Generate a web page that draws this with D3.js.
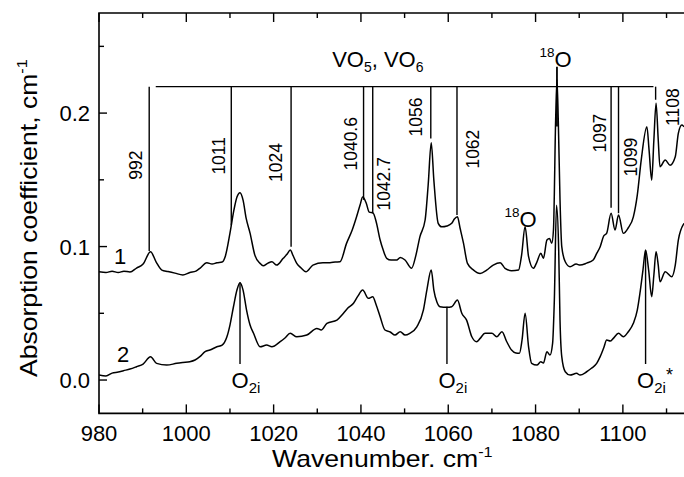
<!DOCTYPE html>
<html>
<head>
<meta charset="utf-8">
<script src="https://cdn.jsdelivr.net/npm/d3@7"></script>
<style>
body { margin: 0; background: #ffffff; }
svg text { font-family: "Liberation Sans", Arial, sans-serif; fill: #000000; }
</style>
</head>
<body>
<div id="chart"></div>
<script>
// spectrum 1 (upper) - wavenumber, absorption coefficient
var wn1 = [980.0, 981.6, 983.0, 984.4, 985.7, 987.1, 988.6, 990.1, 991.8, 993.1, 994.4, 995.8, 997.4, 999.2,
    1000.8, 1002.2, 1003.1, 1004.7, 1005.9, 1007.0, 1008.2, 1008.9, 1010.0, 1010.9, 1011.6, 1012.3, 1013.0, 1013.7,
    1014.6, 1015.7, 1016.9, 1017.6, 1018.7, 1019.6, 1020.7, 1022.2, 1023.1, 1023.8, 1024.5, 1025.3, 1026.3, 1027.4,
    1029.0, 1031.3, 1032.9, 1034.1, 1035.2, 1036.7, 1038.0, 1039.0, 1039.8, 1040.4, 1041.2, 1041.9, 1042.8, 1043.5,
    1044.4, 1045.1, 1045.9, 1046.9, 1048.2, 1049.0, 1050.1, 1051.6, 1052.6, 1053.5, 1054.7, 1055.4, 1056.1, 1056.7,
    1057.7, 1058.5, 1059.7, 1060.8, 1061.4, 1062.1, 1062.7, 1063.5, 1064.4, 1065.8, 1067.3, 1068.8, 1070.3, 1071.9,
    1073.0, 1074.5, 1076.1, 1076.8, 1077.6, 1078.4, 1079.5, 1080.3, 1081.2, 1081.8, 1082.6, 1083.2, 1083.7, 1084.1,
    1084.6, 1084.9, 1085.2, 1085.6, 1086.0, 1086.8, 1087.9, 1089.3, 1090.2, 1091.7, 1093.2, 1094.0, 1094.8, 1095.6,
    1096.3, 1097.3, 1098.2, 1099.0, 1100.1, 1101.2, 1102.4, 1103.3, 1104.2, 1105.5, 1106.0, 1106.6, 1107.1, 1107.6,
    1108.1, 1108.5, 1109.7, 1110.8, 1112.0, 1112.7, 1113.5, 1114.0];
var abs1 = [0.0811, 0.0805, 0.0816, 0.0805, 0.0816, 0.0809, 0.0839, 0.0869, 0.0961, 0.0884, 0.0824, 0.0813, 0.0801, 0.0787,
    0.0805, 0.0816, 0.0837, 0.0879, 0.0869, 0.0879, 0.0884, 0.0924, 0.1101, 0.1273, 0.1371, 0.1404, 0.1348, 0.1213,
    0.1101, 0.0936, 0.0874, 0.0856, 0.0876, 0.0886, 0.0861, 0.0912, 0.0944, 0.0974, 0.0929, 0.0874, 0.0839, 0.0811,
    0.0861, 0.0879, 0.0879, 0.0884, 0.0886, 0.1024, 0.1124, 0.1223, 0.1311, 0.1371, 0.1326, 0.1258, 0.1251, 0.1184,
    0.1049, 0.0974, 0.0912, 0.0899, 0.0899, 0.0919, 0.0899, 0.0837, 0.0936, 0.1073, 0.1199, 0.1461, 0.1778, 0.1498,
    0.1174, 0.1148, 0.1154, 0.1174, 0.1206, 0.1223, 0.1139, 0.1024, 0.0874, 0.0824, 0.0799, 0.0824, 0.0861, 0.0879,
    0.0837, 0.0819, 0.0824, 0.0936, 0.1148, 0.0924, 0.0837, 0.0884, 0.0949, 0.0912, 0.1049, 0.1061, 0.1024, 0.1124,
    0.195, 0.225, 0.195, 0.135, 0.0999, 0.0886, 0.0849, 0.0869, 0.0861, 0.0876, 0.0899, 0.0949, 0.0999, 0.1079,
    0.1101, 0.1249, 0.1124, 0.1236, 0.1099, 0.1139, 0.1223, 0.1386, 0.1648, 0.1897, 0.1723, 0.1498, 0.1798, 0.2073,
    0.1798, 0.1598, 0.1648, 0.1610, 0.1673, 0.1848, 0.1910, 0.1897];

// spectrum 2 (lower)
var wn2 = [980.0, 981.6, 983.0, 984.4, 985.6, 987.1, 988.6, 990.1, 991.8, 993.2, 995.5, 997.8, 999.2, 1000.8,
    1002.0, 1003.1, 1004.3, 1005.4, 1007.0, 1008.2, 1009.3, 1010.0, 1010.8, 1011.6, 1012.3, 1013.0, 1013.8, 1014.6,
    1015.4, 1016.9, 1018.4, 1019.6, 1021.5, 1022.6, 1023.8, 1025.3, 1027.6, 1029.9, 1030.9, 1032.2, 1034.5, 1036.0,
    1037.0, 1038.3, 1039.3, 1040.4, 1041.7, 1042.7, 1043.5, 1044.4, 1045.5, 1046.7, 1047.8, 1049.0, 1050.1, 1051.2,
    1052.8, 1054.3, 1055.1, 1056.1, 1056.7, 1057.4, 1058.1, 1059.7, 1060.8, 1062.1, 1063.1, 1064.2, 1065.4, 1066.5,
    1067.3, 1068.4, 1070.0, 1071.1, 1072.3, 1073.4, 1074.5, 1075.5, 1076.3, 1076.9, 1077.6, 1078.4, 1079.1, 1080.3,
    1081.2, 1081.8, 1082.6, 1083.3, 1083.9, 1084.3, 1084.8, 1085.3, 1085.6, 1086.0, 1086.8, 1087.9, 1089.4, 1090.2,
    1091.7, 1092.8, 1094.0, 1094.8, 1095.6, 1096.3, 1097.1, 1097.8, 1099.0, 1100.1, 1101.2, 1102.4, 1103.3, 1103.9,
    1104.6, 1105.2, 1105.9, 1106.6, 1107.1, 1107.6, 1108.1, 1108.5, 1109.7, 1111.2, 1112.0, 1112.7, 1114.0];
var abs2 = [0.0037, 0.0030, 0.0052, 0.0060, 0.0070, 0.0082, 0.0100, 0.0120, 0.0175, 0.0125, 0.0112, 0.0125, 0.0131, 0.0137,
    0.0150, 0.0175, 0.0212, 0.0225, 0.0249, 0.0262, 0.0324, 0.0412, 0.0549, 0.0674, 0.0729, 0.0674, 0.0524, 0.0412,
    0.0350, 0.0249, 0.0262, 0.0249, 0.0287, 0.0315, 0.0350, 0.0324, 0.0337, 0.0387, 0.0375, 0.0425, 0.0449, 0.0500,
    0.0539, 0.0575, 0.0629, 0.0674, 0.0612, 0.0624, 0.0562, 0.0474, 0.0375, 0.0360, 0.0337, 0.0362, 0.0337, 0.0350,
    0.0399, 0.0524, 0.0674, 0.0824, 0.0674, 0.0584, 0.0549, 0.0545, 0.0549, 0.0599, 0.0500, 0.0449, 0.0324, 0.0287,
    0.0312, 0.0350, 0.0350, 0.0324, 0.0362, 0.0287, 0.0225, 0.0202, 0.0200, 0.0300, 0.0500, 0.0249, 0.0125, 0.0112,
    0.0137, 0.0127, 0.0212, 0.0187, 0.0275, 0.0600, 0.1310, 0.0970, 0.0450, 0.0175, 0.0062, 0.0037, 0.0050, 0.0037,
    0.0062, 0.0088, 0.0125, 0.0175, 0.0240, 0.0300, 0.0292, 0.0312, 0.0350, 0.0324, 0.0360, 0.0425, 0.0524, 0.0649,
    0.0824, 0.0974, 0.0824, 0.0624, 0.0787, 0.0961, 0.0861, 0.0736, 0.0811, 0.0774, 0.0861, 0.1049, 0.1174];

var xTicks = [980, 1000, 1020, 1040, 1060, 1080, 1100];
var yTicks = [0.0, 0.1, 0.2];
var yTickLabels = ["0.0", "0.1", "0.2"];

// VO5 / VO6 mode markers
var modePos = [991.5, 1010.3, 1024, 1040.6, 1042.7, 1056, 1062, 1097.3, 1099, 1107.5];
var modeLabels = ["992", "1011", "1024", "1040.6", "1042.7", "1056", "1062", "1097", "1099", "1108"];
var modeEnd = [0.0966, 0.116, 0.0999, 0.135, 0.125, 0.181, 0.1236, 0.129, 0.125, 0.21];

// O2i markers on lower spectrum
var o2iPos = [1012.3, 1059.7, 1105.2];
var o2iTop = [0.073, 0.055, 0.097];
var o2iStar = ["", "", "*"];

// 18O markers
var o18Pos = [1084.9, 1077.6];

// title with a "-1" superscript, stretched so it spans exactly `len` px
function addTitle(svg, label, tx, ty, rot, len) {
    var t = svg.append("text").style("font-size", "23px")
    t.append("tspan").text(label)
    t.append("tspan").attr("dy", -10).style("font-size", "14px").text("-1")
    var w = t.node().getBBox().width
    t.attr("transform", "translate(" + tx + "," + ty + ")" + (rot ? " rotate(" + rot + ")" : "") +
        " scale(" + (len / w) + ",1)")
    return t
}

function drawSpectra(selector) {
    var width = 684, height = 477;
    var left = 99, right = 684, top = 13, bottom = 413.4;

    var svg = d3.select(selector)
        .append("svg")
        .attr("width", width)
        .attr("height", height)

    var x = d3.scaleLinear().domain([980, 1114]).range([left, right])
    var y = d3.scaleLinear().domain([-0.025, 0.275]).range([bottom, top])

    // frame + ticks (all inward)
    var frame = svg.append("g").attr("stroke", "#000").attr("fill", "none")
    frame.append("path")
        .attr("d", "M" + right + "," + top + "H" + left + "V" + bottom + "H" + right)
        .attr("stroke-width", 1.6)

    var xMinor = d3.range(980, 1115, 10)
    xMinor.forEach(function(v) {
        var major = v % 20 === 0
        var len = major ? 9 : 5
        frame.append("line").attr("x1", x(v)).attr("x2", x(v))
            .attr("y1", bottom).attr("y2", bottom - len).attr("stroke-width", 1.4)
        frame.append("line").attr("x1", x(v)).attr("x2", x(v))
            .attr("y1", top).attr("y2", top + len).attr("stroke-width", 1.4)
    })
    var yMinor = d3.range(0, 0.27, 0.05)
    yMinor.forEach(function(v, i) {
        var len = i % 2 === 0 ? 8 : 5
        frame.append("line").attr("x1", left).attr("x2", left + len)
            .attr("y1", y(v)).attr("y2", y(v)).attr("stroke-width", 1.4)
    })

    svg.selectAll(".xtick").data(xTicks).enter().append("text")
        .attr("class", "xtick")
        .attr("x", function(d) { return x(d) })
        .attr("y", 441)
        .attr("text-anchor", "middle")
        .style("font-size", "22px")
        .text(function(d) { return d })

    svg.selectAll(".ytick").data(yTicks).enter().append("text")
        .attr("class", "ytick")
        .attr("x", 90)
        .attr("y", function(d) { return y(d) + 8 })
        .attr("text-anchor", "end")
        .style("font-size", "22px")
        .text(function(d, i) { return yTickLabels[i] })

    // axis titles
    addTitle(svg, "Wavenumber. cm", 272, 467, 0, 221)
    addTitle(svg, "Absorption coefficient, cm", 37, 377, -90, 318)

    // spectra
    var line = d3.line()
        .x(function(d) { return x(d[0]) })
        .y(function(d) { return y(d[1]) })
        .curve(d3.curveMonotoneX)

    var s1 = wn1.map(function(w, i) { return [w, abs1[i]] })
    var s2 = wn2.map(function(w, i) { return [w, abs2[i]] })

    svg.append("clipPath").attr("id", "plotclip")
        .append("rect").attr("x", left).attr("y", top).attr("width", right - left).attr("height", bottom - top)

    var g = svg.append("g").attr("clip-path", "url(#plotclip)")
    g.selectAll(".spectrum")
        .data([s1, s2]).enter().append("path")
            .attr("class", "spectrum")
            .attr("d", line)
            .attr("fill", "none")
            .attr("stroke", "#000")
            .attr("stroke-width", 1.5)
            .attr("stroke-linejoin", "round")

    svg.append("text").attr("x", 120).attr("y", 264).attr("text-anchor", "middle")
        .style("font-size", "22px").text("1")
    svg.append("text").attr("x", 123).attr("y", 362).attr("text-anchor", "middle")
        .style("font-size", "22px").text("2")

    // VO5, VO6 bracket
    var barY = y(0.2198)
    var ann = svg.append("g").attr("stroke", "#000").attr("stroke-width", 1.4)
    ann.append("line")
        .attr("x1", x(993)).attr("x2", x(1107))
        .attr("y1", barY).attr("y2", barY)

    ann.selectAll(".mode").data(modePos).enter().append("line")
        .attr("class", "mode")
        .attr("x1", function(d) { return x(d) })
        .attr("x2", function(d) { return x(d) })
        .attr("y1", barY)
        .attr("y2", function(d, i) { return y(modeEnd[i]) })

    // label placement: side of line and centre height
    var labSide = [-1, -1, -1, -1, 1, -1, 1, -1, 1, 1]
    var labCenter = [0.161, 0.168, 0.163, 0.177, 0.147, 0.197, 0.173, 0.185, 0.167, 0.2045]
    var labOff = [14, 13, 15, 13, 11, 15, 16, 11, 12, 17]
    svg.selectAll(".modelab").data(modeLabels).enter().append("text")
        .attr("class", "modelab")
        .attr("transform", function(d, i) {
            return "translate(" + (x(modePos[i]) + labSide[i] * labOff[i]) + "," + y(labCenter[i]) + ") rotate(-90)"
        })
        .attr("dy", "0.36em")
        .attr("text-anchor", "middle")
        .style("font-size", "17.5px")
        .text(function(d) { return d })

    var vo = svg.append("text")
        .attr("x", x(1033.4)).attr("y", y(0.2347))
        .style("font-size", "22px")
    vo.append("tspan").text("VO")
    vo.append("tspan").attr("dy", 5).style("font-size", "14px").text("5")
    vo.append("tspan").attr("dy", -5).text(", VO")
    vo.append("tspan").attr("dy", 5).style("font-size", "14px").text("6")

    // 18O markers
    ann.append("line")
        .attr("x1", x(o18Pos[0])).attr("x2", x(o18Pos[0]))
        .attr("y1", y(0.2347)).attr("y2", y(0.19))
        .attr("stroke-width", 1.8)

    var o18Base = [0.2347, 0.1146]
    var o18Shift = [2, 5]
    o18Pos.forEach(function(p, i) {
        var t = svg.append("text")
            .attr("x", x(p) - o18Shift[i] - 15.5)
            .attr("y", y(o18Base[i]))
        t.append("tspan").attr("dy", -10).style("font-size", "13.5px").text("18")
        t.append("tspan").attr("dy", 10).style("font-size", "22px").text("O")
    })

    // O2i markers
    ann.selectAll(".o2i").data(o2iPos).enter().append("line")
        .attr("class", "o2i")
        .attr("x1", function(d) { return x(d) })
        .attr("x2", function(d) { return x(d) })
        .attr("y1", function(d, i) { return y(o2iTop[i]) })
        .attr("y2", y(0.012))

    o2iPos.forEach(function(p, i) {
        var t = svg.append("text")
            .attr("x", x(p) - 8.5)
            .attr("y", 388)
            .style("font-size", "22px")
        t.append("tspan").text("O")
        t.append("tspan").attr("dy", 5).style("font-size", "15px").text("2i")
        if (o2iStar[i]) {
            t.append("tspan").attr("dy", -12).attr("dx", 0).style("font-size", "18px").text(o2iStar[i])
        }
    })
}

drawSpectra("#chart")
</script>
</body>
</html>
